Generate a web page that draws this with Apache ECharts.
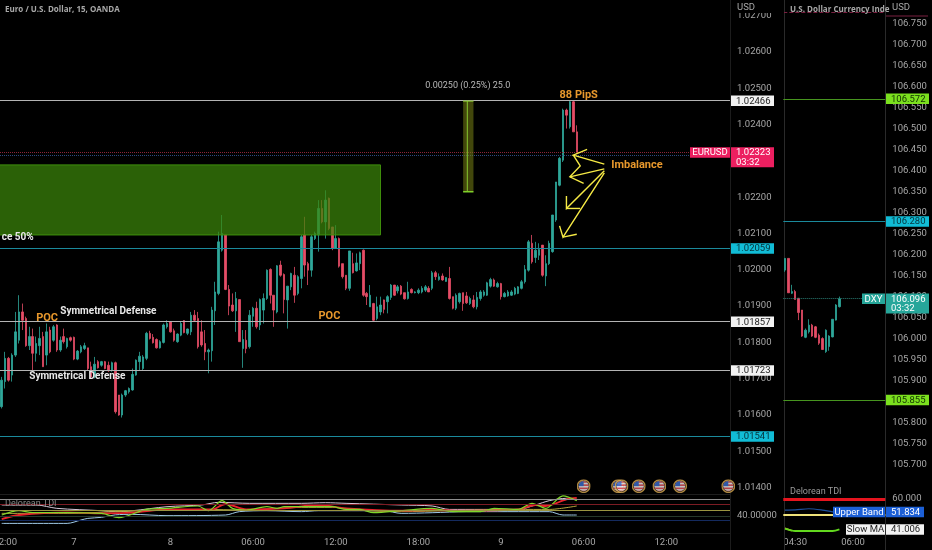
<!DOCTYPE html>
<html><head><meta charset="utf-8">
<style>html,body{margin:0;padding:0;background:#000}#c{width:932px;height:550px}</style>
<script src="https://cdn.jsdelivr.net/npm/echarts@6/dist/echarts.min.js"></script>
</head><body><div id="c"></div>
<script>
// EUR/USD 15m candles
const opens=[1.01623,1.01692,1.01756,1.01710,1.01765,1.01806,1.01884,1.01866,1.01791,1.01816,1.01770,1.01791,1.01816,1.01765,1.01834,1.01806,1.01848,1.01779,1.01816,1.01788,1.01813,1.01814,1.01754,1.01774,1.01783,1.01785,1.01733,1.01705,1.01747,1.01737,1.01747,1.01737,1.01724,1.01744,1.01655,1.01600,1.01655,1.01664,1.01669,1.01710,1.01747,1.01728,1.01756,1.01825,1.01814,1.01808,1.01785,1.01800,1.01843,1.01857,1.01832,1.01802,1.01820,1.01860,1.01825,1.01829,1.01875,1.01866,1.01829,1.01797,1.01774,1.01777,1.01887,1.01935,1.02054,1.02096,1.01946,1.01903,1.01887,1.01918,1.01783,1.01806,1.01788,1.01872,1.01894,1.01848,1.01889,1.01921,1.02001,1.01930,1.01884,1.02013,1.01987,1.01917,1.01953,1.01985,1.01935,1.01976,1.02096,1.02017,1.01999,1.02086,1.02096,1.02169,1.02132,1.02197,1.02118,1.02059,1.02086,1.02017,1.01985,1.01949,1.02017,1.01997,1.02017,1.02054,1.01935,1.01898,1.01907,1.01866,1.01884,1.01917,1.01912,1.01924,1.01958,1.01942,1.01955,1.01937,1.01921,1.01946,1.01937,1.01937,1.01939,1.01944,1.01949,1.01949,1.01992,1.01973,1.01983,1.01968,1.01976,1.01926,1.01894,1.01912,1.01937,1.01928,1.01907,1.01917,1.01898,1.01921,1.01930,1.01930,1.01955,1.01972,1.01953,1.01962,1.01926,1.01928,1.01930,1.01933,1.01935,1.01949,1.01967,1.01999,1.02073,1.02034,1.02040,1.02068,1.01983,1.02017,1.02050,1.02137,1.02233,1.02302,1.02440,1.02394,1.02463,1.02380];
const closes=[1.01696,1.01756,1.01696,1.01765,1.01829,1.01884,1.01861,1.01791,1.01816,1.01770,1.01797,1.01811,1.01733,1.01829,1.01774,1.01843,1.01779,1.01806,1.01802,1.01811,1.01806,1.01754,1.01776,1.01788,1.01791,1.01728,1.01705,1.01740,1.01730,1.01747,1.01728,1.01722,1.01744,1.01609,1.01600,1.01655,1.01667,1.01673,1.01712,1.01751,1.01762,1.01760,1.01825,1.01811,1.01799,1.01785,1.01802,1.01848,1.01852,1.01829,1.01806,1.01823,1.01852,1.01827,1.01837,1.01875,1.01861,1.01788,1.01793,1.01774,1.01779,1.01889,1.01939,1.02077,1.02100,1.01946,1.01900,1.01887,1.01921,1.01802,1.01808,1.01783,1.01875,1.01894,1.01843,1.01918,1.01921,1.01999,1.01930,1.01889,1.02011,1.01985,1.01918,1.01955,1.01990,1.01930,1.01981,1.02091,1.02013,1.01999,1.02091,1.02100,1.02169,1.02132,1.02192,1.02114,1.02059,1.02086,1.02010,1.01981,1.01949,1.02052,1.01992,1.02019,1.02047,1.01930,1.01926,1.01930,1.01861,1.01898,1.01903,1.01891,1.01926,1.01958,1.01930,1.01953,1.01933,1.01920,1.01939,1.01937,1.01939,1.01944,1.01949,1.01953,1.01939,1.01992,1.01981,1.01981,1.01972,1.01979,1.01921,1.01894,1.01930,1.01935,1.01907,1.01909,1.01921,1.01898,1.01924,1.01939,1.01939,1.01964,1.01973,1.01955,1.01962,1.01926,1.01935,1.01939,1.01939,1.01949,1.01953,1.01967,1.02001,1.02077,1.02022,1.02054,1.02056,1.01985,1.02017,1.02073,1.02151,1.02242,1.02307,1.02440,1.02426,1.02463,1.02380,1.02323];
const lows=[1.01618,1.01673,1.01692,1.01692,1.01760,1.01797,1.01834,1.01788,1.01779,1.01724,1.01747,1.01765,1.01733,1.01737,1.01770,1.01802,1.01774,1.01774,1.01797,1.01783,1.01802,1.01751,1.01751,1.01770,1.01779,1.01724,1.01701,1.01701,1.01728,1.01733,1.01726,1.01719,1.01719,1.01604,1.01598,1.01593,1.01650,1.01659,1.01667,1.01708,1.01724,1.01724,1.01751,1.01808,1.01797,1.01783,1.01783,1.01797,1.01838,1.01827,1.01802,1.01799,1.01817,1.01825,1.01820,1.01820,1.01857,1.01783,1.01788,1.01751,1.01715,1.01747,1.01848,1.01930,1.02050,1.01944,1.01875,1.01884,1.01829,1.01802,1.01730,1.01770,1.01783,1.01843,1.01838,1.01834,1.01852,1.01917,1.01907,1.01843,1.01880,1.01981,1.01880,1.01838,1.01944,1.01909,1.01930,1.01949,1.01981,1.01958,1.01981,1.02082,1.02050,1.02128,1.02086,1.02109,1.02054,1.02059,1.02006,1.01976,1.01944,1.01942,1.01990,1.01995,1.01999,1.01926,1.01903,1.01898,1.01857,1.01861,1.01875,1.01880,1.01880,1.01917,1.01928,1.01935,1.01930,1.01918,1.01918,1.01935,1.01935,1.01933,1.01935,1.01939,1.01939,1.01944,1.01972,1.01970,1.01970,1.01967,1.01918,1.01891,1.01889,1.01907,1.01887,1.01906,1.01903,1.01894,1.01891,1.01915,1.01926,1.01928,1.01951,1.01953,1.01951,1.01918,1.01924,1.01926,1.01928,1.01930,1.01933,1.01946,1.01962,1.01995,1.02017,1.02019,1.02027,1.01981,1.01955,1.02013,1.02047,1.02132,1.02230,1.02297,1.02389,1.02389,1.02380,1.02319];
const highs=[1.01705,1.01774,1.01760,1.01770,1.01884,1.01930,1.01907,1.01871,1.01843,1.01838,1.01816,1.01843,1.01829,1.01852,1.01843,1.01848,1.01850,1.01816,1.01838,1.01813,1.01816,1.01816,1.01779,1.01793,1.01799,1.01785,1.01747,1.01760,1.01751,1.01749,1.01749,1.01747,1.01747,1.01747,1.01655,1.01659,1.01669,1.01676,1.01728,1.01753,1.01774,1.01765,1.01829,1.01832,1.01823,1.01811,1.01806,1.01852,1.01861,1.01857,1.01838,1.01825,1.01857,1.01861,1.01838,1.01884,1.01889,1.01884,1.01861,1.01834,1.01783,1.01898,1.01967,1.02105,1.02151,1.02096,1.01958,1.01935,1.01939,1.01918,1.01834,1.01834,1.01889,1.01898,1.01912,1.01921,1.01935,1.02001,1.02004,1.01930,1.02013,1.02025,1.01990,1.01955,1.01992,1.02008,1.01985,1.02096,1.02146,1.02022,1.02096,1.02105,1.02192,1.02192,1.02219,1.02199,1.02118,1.02123,1.02089,1.02017,1.01985,1.02052,1.02047,1.02045,1.02050,1.02056,1.01939,1.01958,1.01909,1.01926,1.01926,1.01918,1.01930,1.01961,1.01958,1.01958,1.01958,1.01937,1.01967,1.01949,1.01941,1.01949,1.01955,1.01958,1.01955,1.01997,1.01997,1.01990,1.01990,1.01979,1.02008,1.01926,1.01935,1.01937,1.01937,1.01939,1.01926,1.01930,1.01939,1.01944,1.01944,1.01967,1.01978,1.01976,1.01967,1.01964,1.01939,1.01944,1.01944,1.01953,1.01955,1.01972,1.02013,1.02082,1.02096,1.02077,1.02073,1.02068,1.02040,1.02080,1.02151,1.02242,1.02311,1.02444,1.02444,1.02467,1.02467,1.02398];

// time axis labels: bar index -> text
const timeBars=[1,21,49,73,97,121,145,169,193];
const timeTexts=['12:00','7','8','06:00','12:00','18:00','9','06:00','12:00'];
const barCount=212;

// horizontal levels on EUR/USD
const whiteLevels=[1.02466,1.01857,1.01723];
const cyanLevels=[1.02059,1.01541];
const lastPrice=1.02323, askPrice=1.02315;

// economic event flags (bar index)
const eventBars=[169,179,180,185,191,197,211];
const eventPrice=1.01404;

// zones [barStart, barEnd, priceTop, priceBottom]
const demandZone=[-1,110.2,1.02289,1.02096];
const measureZone=[134.1,137.2,1.02466,1.02215];

// TDI (main pane): [bar, value]
const tdiBlue=[[0,27.3],[19,27.3],[23,33],[25,35.8],[29,37.6],[33,41.8],[38,42.6],[48,40.4],[65,41.5],[69,47.2],[77,48.8],[87,47.2],[92,48.8],[111,48.8],[116,44.3],[125,45.4],[135,47.2],[159,47.2],[163,41.5],[167,41.5]];
const tdiPale=[[0,58.5],[10,58.5],[16,52.8],[29,48.8],[33,47.2],[38,48.8],[48,55.6],[58,58.5],[63,63],[72,61.3],[87,61.3],[94,62.4],[100,61.3],[116,58.5],[125,56.8],[130,51],[150,51],[155,58.5],[159,65.8],[164,69.8],[167,68]];
const tdiRed=[[0,34.7],[5,41.5],[19,46],[29,44.3],[38,45.4],[48,51],[58,51],[61,51],[65,60.2],[71,51],[82,52.8],[92,58.5],[100,52.8],[116,48.8],[125,50],[135,48.8],[150,51],[155,58.5],[158,56.8],[164,68],[167,70.4]];
const tdiGreen=[[0,41.5],[5,48.8],[9,45.4],[19,45.4],[29,44.3],[34,37],[42,51],[48,52.8],[57,56.8],[60,48.8],[64,65.8],[67,52.8],[71,50],[77,55.6],[80,52.8],[82,55.6],[87,55.6],[96,55.6],[100,51],[104,51],[108,45.4],[116,48.8],[125,52.8],[131,47.2],[139,47.2],[143,52.8],[150,51],[154,61.3],[158,52.8],[163,73.8],[167,65.8]];
const tdiYellow=[[0,44.3],[19,44.3],[33,47.2],[42,48.8],[58,51],[71,50],[87,54.5],[96,54.5],[106,48.8],[116,47.2],[130,48.8],[150,51],[159,51],[167,56.8]];
const tdiLevels=[68,60,50,40,32];

// DXY 5m candles
const dxyOpens=[106.164,106.192,106.109,106.113,106.097,106.069,106.004,106.017,106.033,106.029,106.009,106.001,105.970,105.982,106.005,106.045,106.077];
const dxyCloses=[106.192,106.110,106.113,106.094,106.063,106.007,106.021,106.033,106.007,106.004,105.990,105.975,106.021,106.007,106.047,106.081,106.096];
const dxyLows=[106.160,106.110,106.107,106.094,106.045,106.005,106.002,106.013,106.005,106.002,105.986,105.974,105.967,105.972,106.004,106.044,106.075];
const dxyHighs=[106.192,106.192,106.129,106.117,106.097,106.069,106.025,106.047,106.036,106.031,106.013,106.004,106.023,106.009,106.047,106.083,106.101];
const dxyTimeBars=[3,20], dxyTimeTexts=['04:30','06:00'], dxyBarCount=30;
const dxyGreen=[106.572,105.855], dxyCyan=[106.280], dxyLast=106.096, dxyTopLine=106.779;

// TDI (DXY pane)
const tdi2Blue=[[0,53.1],[3,53.2],[7,53.9],[11,53.1],[14,52],[16,51.834]];
const tdi2Orange=[[0,41.7],[2,40.2]];
const tdi2Green=[[0,41.5],[3,40],[8,40],[14,40],[16,41.006]];

const UP='#2fa79a',DOWN='#e54d66',FONT='Roboto, sans-serif',AXT='#a6a6a6';
const zip4=(a,b,c,d)=>a.map((v,i)=>[v,b[i],c[i],d[i]]);
const cats=n=>Array.from({length:n},(_,i)=>i);
const candleStyle={color:UP,color0:DOWN,borderColor:UP,borderColor0:DOWN,borderWidth:0.8};
const hline=(v,color,width,type)=>({yAxis:v,lineStyle:{color,width:width||1,type:type||'solid'}});
const mlBase={silent:true,symbol:'none',precision:5,label:{show:false},animation:false};

const chart=echarts.init(document.getElementById('c'),null,{renderer:'canvas'});
const hiddenX=(grid,n)=>({type:'category',gridIndex:grid,data:cats(n),axisLine:{show:false},axisTick:{show:false},axisLabel:{show:false},splitLine:{show:false}});
const timeX=(grid,n,bars,texts,margin)=>({type:'category',gridIndex:grid,data:cats(n),axisLine:{show:false},axisTick:{show:false},splitLine:{show:false},
  axisLabel:{color:AXT,fontFamily:FONT,fontSize:9.5,margin,hideOverlap:false,
    interval:(i)=>bars.includes(i),formatter:(v,i)=>{const k=bars.indexOf(+v);return k<0?'':texts[k];}}});
const priceY=(grid,min,max,interval,fmt,margin)=>({type:'value',gridIndex:grid,position:'right',min,max,interval,scale:true,
  axisLine:{show:false},axisTick:{show:false},splitLine:{show:false},
  axisLabel:{color:AXT,fontFamily:FONT,fontSize:9.5,padding:[2,0,0,0],margin:margin||7,showMinLabel:false,showMaxLabel:false,formatter:fmt}});
const tdiLine=(data,color,width,x,y,clip)=>({type:'line',xAxisIndex:x,yAxisIndex:y,data,symbol:'none',smooth:0.3,animation:false,silent:true,clip:clip!==false,lineStyle:{color,width}});

const flagSvg="<svg xmlns='http://www.w3.org/2000/svg' width='28' height='28' viewBox='0 0 28 28'><defs><clipPath id='c'><circle cx='14' cy='14' r='10'/></clipPath></defs><circle cx='14' cy='14' r='12.5' fill='#000' stroke='#d8a850' stroke-width='3'/><g clip-path='url(#c)'><rect width='28' height='28' fill='#f2f2f2'/><rect y='4' width='28' height='3.2' fill='#e0525a'/><rect y='10.4' width='28' height='3.2' fill='#e0525a'/><rect y='16.8' width='28' height='3.2' fill='#e0525a'/><rect y='23' width='28' height='3.2' fill='#e0525a'/><rect width='14' height='14' fill='#3b6fd0'/></g></svg>";

chart.setOption({
  animation:false,backgroundColor:'#000',
  grid:[
    {left:0,width:730,top:-20.6,height:544.5,outerBoundsMode:'none'},
    {left:0,width:730,top:492.3,height:41.3,outerBoundsMode:'none'},
    {left:783.3,width:102,top:-39,height:588,outerBoundsMode:'none'},
    {left:783.3,width:102,top:491,height:40,outerBoundsMode:'none'}
  ],
  xAxis:[hiddenX(0,barCount),timeX(1,barCount,timeBars,timeTexts,4),hiddenX(2,dxyBarCount),timeX(3,dxyBarCount,dxyTimeBars,dxyTimeTexts,6.6)],
  yAxis:[
    priceY(0,1.013,1.028,0.001,v=>(v>1.0135&&v<1.0275)?v.toFixed(5):''),
    priceY(1,10,80,10,v=>Math.abs(v-40)<.01?'40.00000':''),
    priceY(2,105.5,106.9,0.05,v=>(v>105.69&&v<106.76)?v.toFixed(3):''),
    priceY(3,40,65,5,v=>Math.abs(v-60)<.01?'60.000':'')
  ],
  series:[
    {type:'candlestick',name:'EURUSD',xAxisIndex:0,yAxisIndex:0,barWidth:2,itemStyle:candleStyle,silent:true,animation:false,
      data:zip4(opens,closes,lows,highs),
      markLine:Object.assign({},mlBase,{data:[
        ...whiteLevels.map(v=>hline(v,'#b4b4b4')),
        ...cyanLevels.map(v=>hline(v,'#1b8a9c')),
        hline(lastPrice,'#8a2438',1,'dotted'),
        hline(askPrice,'#2c4a80',1,'dotted')]})},
    {type:'scatter',xAxisIndex:0,yAxisIndex:0,symbol:'image://data:image/svg+xml;utf8,'+encodeURIComponent(flagSvg),symbolSize:14,silent:true,animation:false,clip:true,z:6,
      data:eventBars.map(b=>[b,eventPrice])},
    tdiLine(tdiBlue,'#9fc9e6',1,1,1),
    tdiLine(tdiPale,'#d8c8d8',1,1,1),
    tdiLine(tdiYellow,'#b8a83c',1,1,1),
    tdiLine(tdiRed,'#e8242c',1.8,1,1),
    Object.assign(tdiLine(tdiGreen,'#7fd62a',1.2,1,1),{markLine:Object.assign({},mlBase,{data:[
      hline(tdiLevels[0],'#8e8e8e',1),hline(tdiLevels[1],'#7c1c24',1),hline(tdiLevels[2],'#9a9440',1),hline(tdiLevels[3],'#26382a',1),hline(tdiLevels[4],'#142a5e',1)]})}),
    {type:'candlestick',name:'DXY',xAxisIndex:2,yAxisIndex:2,barWidth:2,itemStyle:candleStyle,silent:true,animation:false,
      data:zip4(dxyOpens,dxyCloses,dxyLows,dxyHighs),
      markLine:Object.assign({},mlBase,{data:[
        ...dxyGreen.map(v=>hline(v,'#47951f')),
        ...dxyCyan.map(v=>hline(v,'#1b8a9c')),
        hline(dxyLast,'#2a7f76',1,'dotted'),
        hline(dxyTopLine,'#7a2040',1,'dashed')]})},
    Object.assign(tdiLine(tdi2Blue,'#1c4f9c',1.2,3,3),{markLine:Object.assign({},mlBase,{data:[hline(60,'#e6141e',3),hline(50,'#efe27a',2)]})}),
    tdiLine(tdi2Orange,'#e0a030',1.5,3,3,false),
    tdiLine(tdi2Green,'#62d81e',2,3,3,false)
  ]
});

// annotations placed through the axis scales
const annotations=[
  {text:'ce 50%',bar:-0.5,price:1.02088,color:'#e8e8e8',font:'bold 10px '+FONT},
  {text:'POC',bar:9.7,price:1.01867,color:'#e8982c',font:'bold 11px '+FONT},
  {text:'Symmetrical Defense',bar:17.2,price:1.01884,color:'#e8e8e8',font:'bold 10px '+FONT},
  {text:'Symmetrical Defense',bar:8.2,price:1.01705,color:'#e8e8e8',font:'bold 10px '+FONT},
  {text:'POC',bar:91.6,price:1.01873,color:'#e8982c',font:'bold 11px '+FONT},
  {text:'0.00250 (0.25%) 25.0',bar:123.2,price:1.02506,color:'#b8b8b8',font:'9px '+FONT},
  {text:'88 PipS',bar:161.6,price:1.02482,color:'#e8982c',font:'bold 11px '+FONT},
  {text:'Imbalance',bar:176.7,price:1.02289,color:'#e8982c',font:'bold 11px '+FONT}
];
const arrowPaths=[
  [[175,1.02291],[166.3,1.02316],[169.7,1.02332]],
  [[166.3,1.02316],[167.6,1.02286],[165.4,1.02256],[168.5,1.02238]],
  [[174.5,1.02278],[165.4,1.02256]],
  [[175,1.02273],[164.4,1.02169],[163.9,1.02203]],
  [[164.4,1.02169],[168.3,1.02169]],
  [[175.3,1.02267],[162.9,1.0209],[162,1.02121]],
  [[162.9,1.0209],[166.8,1.02098]]
];
// price tags: [axis, value, text, sub text, background, text colour, side label]
const priceTags=[
  [0,1.02466,'1.02466','','#f2f2f2','#222'],
  [0,1.02059,'1.02059','','#11bcd6','#06323a'],
  [0,1.01857,'1.01857','','#f2f2f2','#222'],
  [0,1.01723,'1.01723','','#f2f2f2','#222'],
  [0,1.01541,'1.01541','','#11bcd6','#06323a'],
  [0,1.02323,'1.02323','03:32','#ec1f60','#fff','EURUSD',40],
  [2,106.572,'106.572','','#7be01e','#123004'],
  [2,106.280,'106.280','','#11bcd6','#06323a'],
  [2,105.855,'105.855','','#7be01e','#123004'],
  [2,106.096,'106.096','03:32','#26a69a','#fff','DXY',23],
  [3,51.834,'51.834','','#1c5fd6','#fff','Upper Band',52],
  [3,41.006,'41.006','','#f2f2f2','#222','Slow MA',39]
];
const gx=(b,ax)=>chart.convertToPixel({xAxisIndex:ax},b);
const gy=(v,ax)=>chart.convertToPixel({yAxisIndex:ax},v);
const T=(x,y,text,fill,font,align,z)=>({type:'text',z:z||30,silent:true,style:{x,y,text,fill,font:font||('9.5px '+FONT),textAlign:align||'left',textVerticalAlign:'middle'}});
const R=(x,y,w,h,fill,z,stroke)=>({type:'rect',z:z||28,silent:true,shape:{x,y,width:w,height:h},style:{fill,stroke:stroke||null,lineWidth:1}});
const L=(x1,y1,x2,y2,stroke,w,z)=>({type:'line',z:z||1,silent:true,shape:{x1,y1,x2,y2},style:{stroke,lineWidth:w||1}});
const els=[];
// panel dividers
els.push(L(730.5,0,730.5,550,'#1c1c1c'),L(784.5,0,784.5,550,'#2a2a2a'),L(885.5,0,885.5,550,'#2a2a2a'));
els.push(L(0,494.5,730,494.5,'#1e1e1e'),L(0,533.5,730,533.5,'#1e1e1e'));
// zones
{const [b0,b1,pt,pb]=demandZone;const x0=gx(b0,0),x1=gx(b1,0),y0=gy(pt,0),y1=gy(pb,0);
 els.push(R(x0,y0,x1-x0,y1-y0,'rgba(60,135,10,0.72)',12,'#3f8f0c'));}
{const [b0,b1,pt,pb]=measureZone;const x0=gx(b0,0),x1=gx(b1,0),y0=gy(pt,0),y1=gy(pb,0);
 els.push(R(x0,y0,x1-x0,y1-y0,'rgba(120,130,20,0.55)',12));
 els.push(L((x0+x1)/2-1,y0,(x0+x1)/2-1,y1,'#86c830',1,13),L(x0,y0+0.5,x1,y0+0.5,'#86c830',1,13),L(x0,y1,x1,y1,'#7fd02a',1.5,13));}
// arrows
arrowPaths.forEach(p=>els.push({type:'polyline',z:20,silent:true,shape:{points:p.map(a=>[gx(a[0],0),gy(a[1],0)])},style:{stroke:'#f6ea45',lineWidth:1.4,fill:null}}));
// annotation text
annotations.forEach(a=>els.push(T(gx(a.bar,0),gy(a.price,0),a.text,a.color,a.font)));
// header
els.push(T(5,10,'Euro / U.S. Dollar, 15, OANDA','#a8a8a8','bold 8px "Open Sans", sans-serif'));
els.push(R(731,0,53,13,'#000',26),T(737,8,'USD','#a8a8a8','9.5px '+FONT));
els.push(R(786,0,99,11,'#000',1));
els.push(T(790,10,'U.S. Dollar Currency Inde','#a8a8a8','bold 8px "Open Sans", sans-serif'));
els.push(R(886,0,46,15,'#000',26),T(892,8,'USD','#a8a8a8','9.5px '+FONT),L(886,16,928,16,'#7a2040',1,27));
els.push(T(5,504,'Delorean TDI','#8a8a8a','9px '+FONT),T(790,492,'Delorean TDI','#9a9a9a','9px '+FONT));
// tags
priceTags.forEach(t=>{
  const [ax,val,txt,sub,bg,fg,side,sw]=t;
  const y=gy(val,ax),xl=ax===0?731:886,w=ax===3?38:43,h=sub?20:10.5;
  els.push(R(xl,y-5.2,w,h,bg));
  els.push(T(xl+5,y+0.5,txt,fg));
  if(sub)els.push(T(xl+5,y+10,sub,fg));
  if(side){els.push(R(xl-sw-1,y-5.2,sw,10.5,bg),T(xl-sw/2-1,y+0.5,side,fg,null,'center'));}
});
els.push(R(774,535,10,15,'#000',29));
chart.setOption({graphic:{elements:els}});
</script>
</body></html>
